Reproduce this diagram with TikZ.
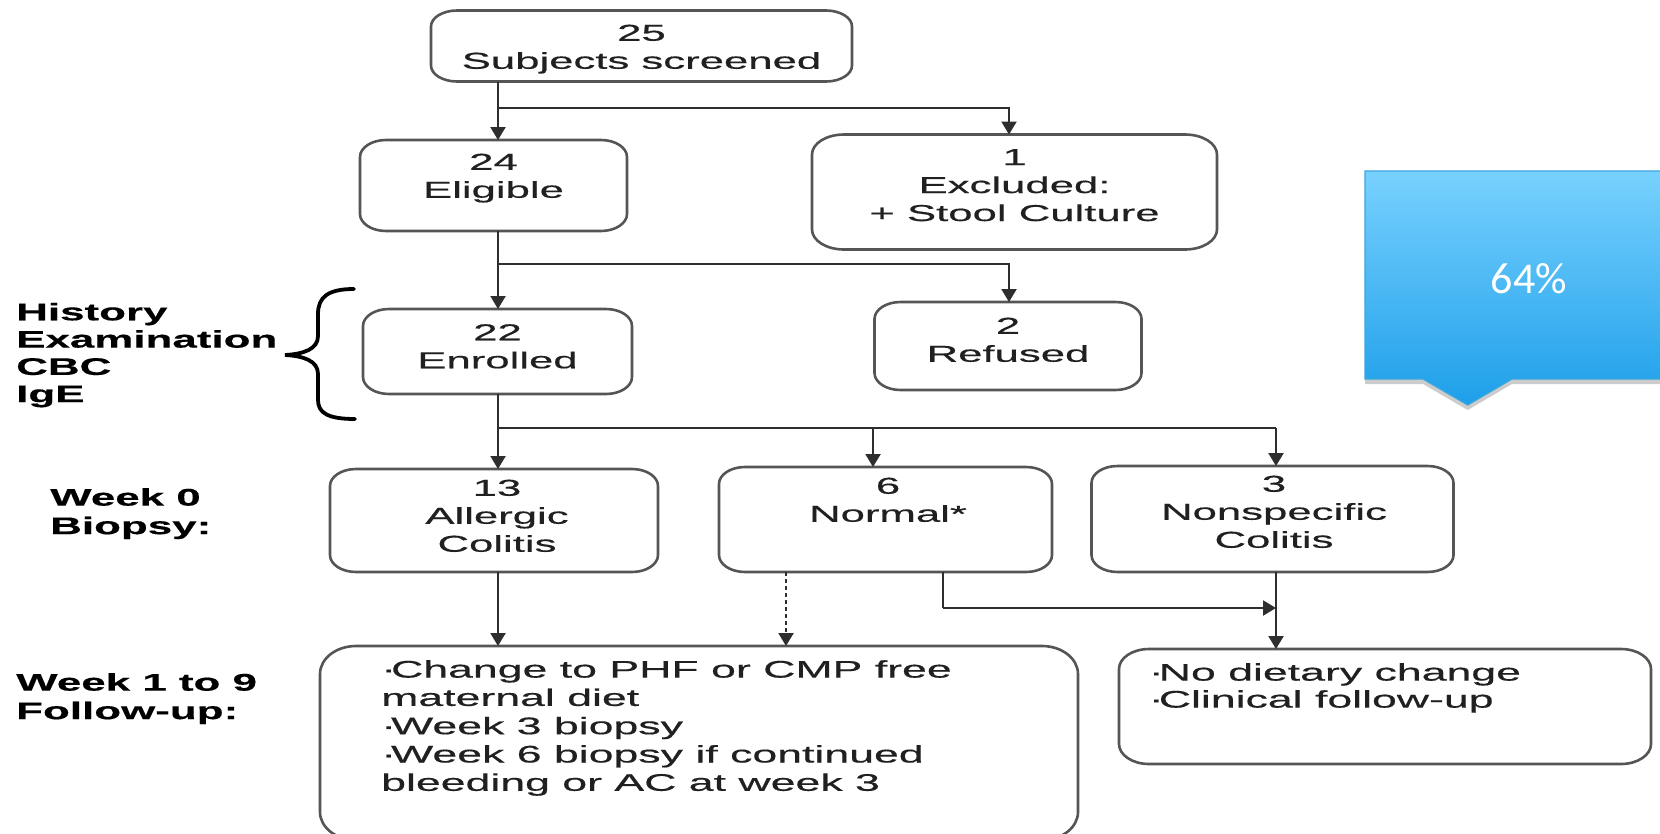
\documentclass[tikz,border=0pt]{standalone}
\usepackage{fontspec}
\usetikzlibrary{arrows.meta,shadows}
\newfontfamily\boxfont[FakeStretch=1.9,FakeBold=0.5]{Liberation Sans}
\newfontfamily\fufont[FakeStretch=1.86,FakeBold=0.5]{Liberation Sans}
\newfontfamily\labfont[FakeStretch=1.83,FakeBold=0.4]{Liberation Sans Bold}
\newfontfamily\pctfont{Carlito}
\definecolor{txt}{HTML}{202020}
\definecolor{bord}{HTML}{555555}
\definecolor{lin}{HTML}{2E2E2E}
\definecolor{caltop}{HTML}{78D1FE}
\definecolor{calbot}{HTML}{1E9FEA}
\definecolor{caledge}{HTML}{3AA6E0}
\newcommand\ebox[3]{%
  \draw[boxline] ([xshift=#2]#1.north west) -- ([xshift=-#2]#1.north east)
    arc[start angle=90,end angle=0,x radius=#2,y radius=#3]
    -- ([yshift=#3]#1.south east)
    arc[start angle=0,end angle=-90,x radius=#2,y radius=#3]
    -- ([xshift=#2]#1.south west)
    arc[start angle=270,end angle=180,x radius=#2,y radius=#3]
    -- ([yshift=-#3]#1.north west)
    arc[start angle=180,end angle=90,x radius=#2,y radius=#3] -- cycle;}
\newcommand\bul{·\kern-5pt}
\tikzset{
  boxn/.style={rectangle,draw=none,inner sep=0pt,outer sep=0pt},
  boxline/.style={draw=bord,line width=2.6pt},
  btxt/.style={font=\boxfont\fontsize{23}{28}\selectfont,align=center,inner sep=0pt,anchor=north,text=txt},
  futxt/.style={font=\fufont\fontsize{24}{28.3}\selectfont,align=left,inner sep=0pt,anchor=north west,text=txt},
  labtxt/.style={font=\labfont\fontsize{24}{28.5}\selectfont,align=left,inner sep=0pt,anchor=north west,text=black},
  conn/.style={draw=lin,line width=2.2pt},
  arr/.style={conn,-{Triangle[length=13pt,width=15pt]}},
  dotarr/.style={arr,dash pattern=on 4pt off 3pt},
  bracel/.style={draw=black,line width=3.8pt,line cap=round}
}
\begin{document}
\begin{tikzpicture}[x=1pt,y=-1pt]
\useasboundingbox (0,0) rectangle (1660,833);
\clip (0,0) rectangle (1660,833);

% boxes
\node[boxn,minimum width=421pt,minimum height=71pt] (top) at (641.5,46) {};
\node[boxn,minimum width=267pt,minimum height=91pt] (elig) at (493.5,185.5) {};
\node[boxn,minimum width=405pt,minimum height=115pt] (excl) at (1014.5,192) {};
\node[boxn,minimum width=269pt,minimum height=85pt] (enrol) at (497.5,351.5) {};
\node[boxn,minimum width=267pt,minimum height=88pt] (refu) at (1008,346) {};
\node[boxn,minimum width=328pt,minimum height=103pt] (aller) at (494,520.5) {};
\node[boxn,minimum width=333pt,minimum height=105pt] (norm) at (885.5,519.5) {};
\node[boxn,minimum width=362pt,minimum height=106pt] (nons) at (1272.5,519) {};
\node[boxn,minimum width=758pt,minimum height=194pt] (fua) at (699,743) {};
\node[boxn,minimum width=532pt,minimum height=115pt] (fub) at (1385,706.5) {};

\ebox{top}{26pt}{16pt}
\ebox{elig}{26pt}{17pt}
\ebox{excl}{32pt}{20pt}
\ebox{enrol}{26pt}{17pt}
\ebox{refu}{26pt}{17pt}
\ebox{aller}{26pt}{17pt}
\ebox{norm}{26pt}{17pt}
\ebox{nons}{26pt}{17pt}
\ebox{fua}{36pt}{28pt}
\ebox{fub}{30pt}{20pt}

% box texts
\node[btxt] (ttop) at (641.5,24.5) {25\\Subjects screened};
\node[btxt] (telig) at (493.5,153.5) {24\\Eligible};
\node[btxt] (texcl) at (1014.5,149) {1\\Excluded:\\+ Stool Culture};
\node[btxt] (tenrol) at (497.5,324) {22\\Enrolled};
\node[btxt] (trefu) at (1008,317.5) {2\\Refused};
\node[btxt] (taller) at (497,479.5) {13\\Allergic\\Colitis};
\node[btxt] (tnorm) at (888,477.5) {6\\Normal*};
\node[btxt] (tnons) at (1274,475.5) {3\\Nonspecific\\Colitis};
\node[futxt] (tfua) at (381,660) {\bul Change to PHF or CMP free\\maternal diet\\\bul Week 3 biopsy\\\bul Week 6 biopsy if continued\\bleeding or AC at week 3};
\node[futxt,font=\fufont\fontsize{24}{27}\selectfont] (tfub) at (1148.7,663) {\bul No dietary change\\\bul Clinical follow-up};

% left labels
\node[labtxt,font=\labfont\fontsize{24}{27.3}\selectfont] (lhist) at (16,302.7) {History\\Examination\\CBC\\IgE};
\node[labtxt] (lwk0) at (50,488) {Week 0\\Biopsy:};
\node[labtxt] (lwk1) at (16,673) {Week 1 to 9\\Follow-up:};

% brace
\draw[bracel] (354,289) .. controls (328,289) and (318,297) .. (318,314) -- (318,336)
  .. controls (318,349) and (304,354) .. (285,355)
  .. controls (304,356) and (318,361) .. (318,374) -- (318,400)
  .. controls (318,413) and (328,419) .. (355,419);

% junction coordinates
\coordinate (j1) at (498,108);
\coordinate (j1r) at (1009,108);
\coordinate (j2) at (498,263.6);
\coordinate (j2r) at (1009,263.6);
\coordinate (j3) at (498,427.7);
\coordinate (j3m) at (873,427.7);
\coordinate (j3r) at (1276,427.7);
\coordinate (j4) at (943,608);
\coordinate (j4r) at (1276,608);
\coordinate (jd) at (786,600);

% connectors
\draw[conn] (top.south -| j1) -- (j1);
\draw[arr] (j1) -- (elig.north -| j1);
\draw[arr] (j1) -- (j1r) -- (excl.north -| j1r);
\draw[conn] (elig.south -| j2) -- (j2);
\draw[arr] (j2) -- (enrol.north -| j2);
\draw[arr] (j2) -- (j2r) -- (refu.north -| j2r);
\draw[conn] (enrol.south -| j3) -- (j3);
\draw[arr] (j3) -- (aller.north -| j3);
\draw[conn] (j3) -- (j3r);
\draw[arr] (j3m) -- (norm.north -| j3m);
\draw[arr] (j3r) -- (nons.north -| j3r);
\draw[arr] (aller.south -| j3) -- (fua.north -| j3);
\draw[dotarr] (norm.south -| jd) -- (fua.north -| jd);
\draw[conn] (norm.south -| j4) -- (j4);
\draw[arr] (j4) -- (j4r);
\draw[arr] (nons.south -| j4r) -- (fub.north -| j4r);

% callout
\path[top color=caltop,bottom color=calbot,draw=caledge,line width=1.2pt,
  drop shadow={shadow xshift=0pt,shadow yshift=-5pt,opacity=0.4}]
  (1365,171) -- (1680,171) -- (1680,379) -- (1512,379) -- (1467.7,405)
  -- (1423,379) -- (1365,379) -- cycle;
\node[font=\pctfont\fontsize{44}{48}\selectfont,text=white,inner sep=0pt,anchor=base] (pct) at (1529,293) {64\%};
\end{tikzpicture}
\end{document}
